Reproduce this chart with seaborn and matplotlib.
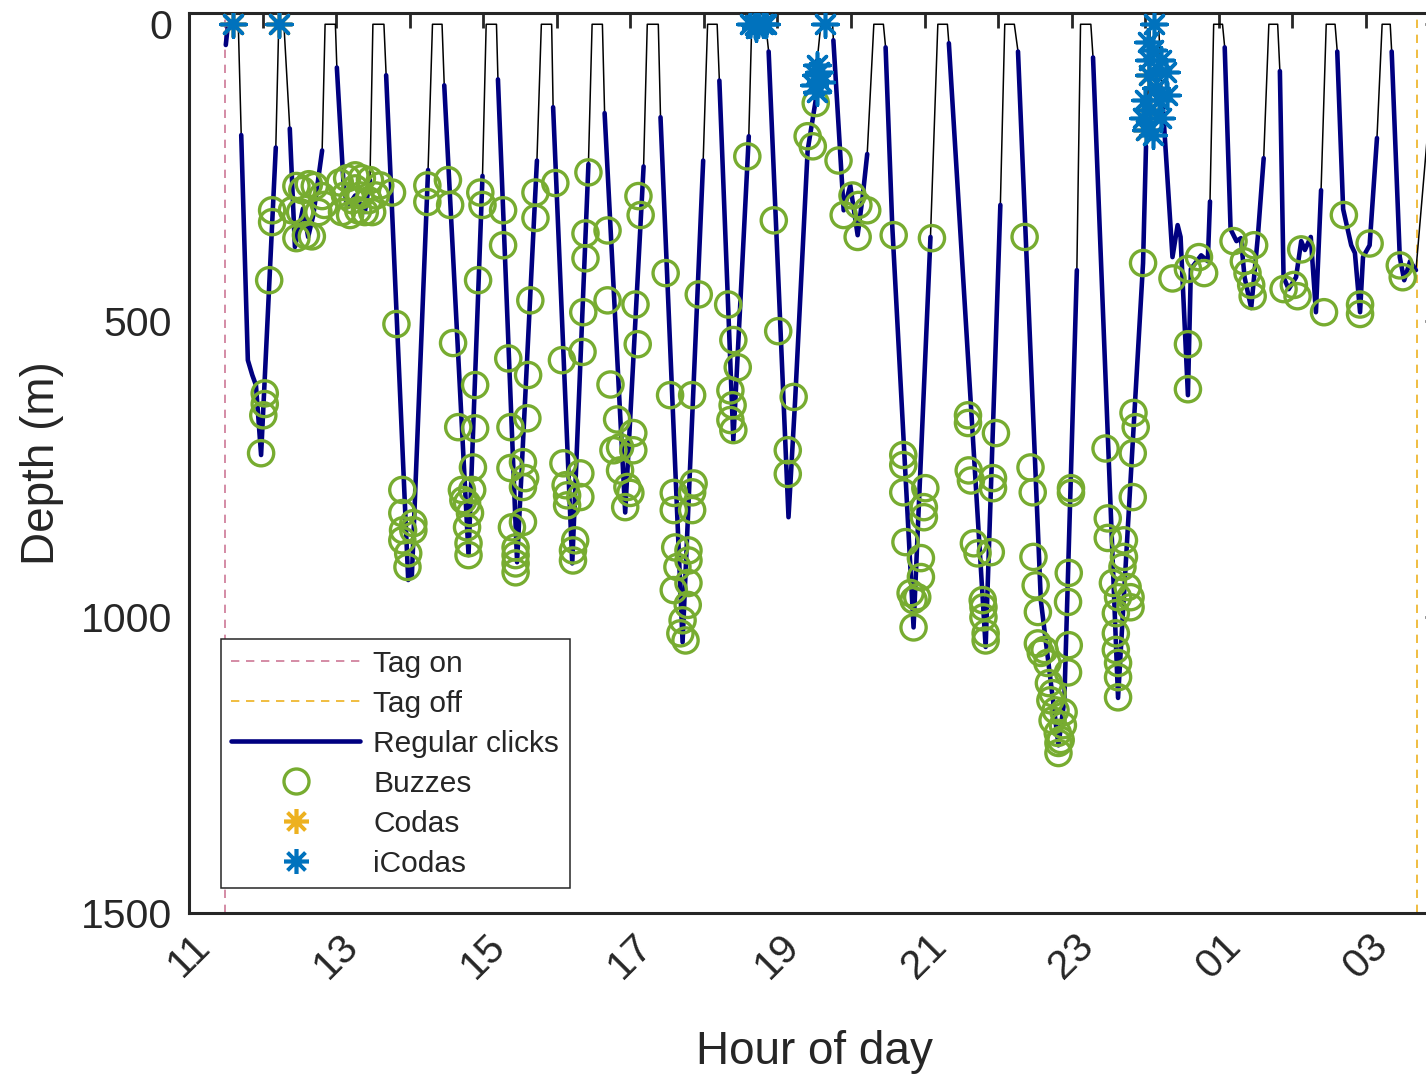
import numpy as np
import pandas as pd
import matplotlib
matplotlib.use("Agg")
import matplotlib.pyplot as plt
from matplotlib.lines import Line2D
import seaborn as sns

# Dive profile: hour of day (hours after midnight continue past 24), depth (m),
# and whether regular clicks were heard on the segment that starts at each point
profile_hour = [
    11.50, 11.53, 11.67, 11.71, 11.80, 11.86, 11.91, 11.98, 12.18, 12.22,
    12.29, 12.37, 12.44, 12.55, 12.62, 12.69, 12.81, 12.85,
    12.99, 13.01, 13.10, 13.15, 13.26, 13.39, 13.46, 13.50,
    13.65, 13.68, 13.98, 14.03, 14.25, 14.31,
    14.44, 14.47, 14.80, 14.99, 15.04,
    15.18, 15.20, 15.46, 15.73, 15.79,
    15.93, 15.95, 16.21, 16.43, 16.48,
    16.62, 16.65, 16.93, 17.18, 17.23,
    17.38, 17.41, 17.71, 17.99, 18.05,
    18.18, 18.21, 18.40, 18.61, 18.65,
    18.84, 18.88, 19.15, 19.24, 19.41, 19.52, 19.54, 19.59,
    19.75, 19.76, 19.90, 19.99, 20.09, 20.16, 20.22, 20.31,
    20.44, 20.47, 20.56, 20.58, 20.85, 21.08, 21.18,
    21.31, 21.33, 21.83, 22.03, 22.09,
    22.22, 22.27, 22.58, 22.82, 22.90, 23.07, 23.12,
    23.26, 23.29, 23.63, 23.97, 24.01, 24.07,
    24.18, 24.24, 24.37, 24.44, 24.48, 24.58, 24.62, 24.76, 24.85, 24.88, 24.93,
    25.05, 25.08, 25.16, 25.24, 25.30, 25.35, 25.44, 25.53, 25.61, 25.68,
    25.80, 25.83, 25.88, 25.95, 26.05, 26.12, 26.17, 26.25, 26.32, 26.39, 26.46,
    26.58, 26.61, 26.69, 26.80, 26.85, 26.92, 26.96, 27.05, 27.15, 27.22,
    27.33, 27.35, 27.46, 27.52, 27.60, 27.68, 27.83, 27.91,
]
profile_depth = [
    35, 0, 0, 187, 567, 592, 609, 727, 208, 0,
    0, 176, 376, 311, 359, 322, 213, 0,
    0, 73, 268, 309, 289, 317, 263, 0,
    0, 86, 938, 930, 246, 0,
    0, 103, 896, 256, 0,
    0, 93, 908, 230, 0,
    0, 140, 910, 236, 0,
    0, 150, 824, 240, 0,
    0, 157, 1043, 230, 0,
    0, 95, 702, 189, 0,
    0, 46, 832, 635, 213, 128, 61, 0,
    0, 27, 314, 272, 356, 289, 219, 0,
    0, 39, 339, 386, 1018, 359, 0,
    0, 32, 1051, 305, 0,
    0, 46, 972, 1217, 1141, 415, 0,
    0, 56, 1137, 403, 206, 0,
    0, 140, 393, 339, 359, 626, 413, 390, 400, 299, 0,
    0, 39, 346, 366, 361, 427, 479, 359, 226, 0,
    0, 79, 427, 447, 427, 366, 381, 359, 486, 280, 0,
    0, 46, 312, 373, 386, 486, 393, 373, 192, 0,
    0, 46, 393, 432, 400, 415, 196, 60,
]
profile_clicks = [
    1, 0, 0, 1, 1, 1, 1, 1, 0, 0,
    0, 1, 1, 1, 1, 1, 0, 0,
    0, 1, 1, 1, 1, 1, 0, 0,
    0, 1, 1, 1, 0, 0,
    0, 1, 1, 0, 0,
    0, 1, 1, 0, 0,
    0, 1, 1, 0, 0,
    0, 1, 1, 0, 0,
    0, 1, 1, 0, 0,
    0, 1, 1, 0, 0,
    0, 1, 1, 1, 1, 1, 0, 0,
    0, 1, 1, 1, 1, 1, 0, 0,
    0, 1, 1, 1, 1, 0, 0,
    0, 1, 1, 0, 0,
    0, 1, 1, 1, 1, 0, 0,
    0, 1, 1, 1, 0, 0,
    0, 1, 1, 1, 1, 1, 1, 1, 1, 0, 0,
    0, 1, 1, 1, 1, 1, 1, 1, 0, 0,
    0, 1, 1, 1, 1, 1, 1, 1, 1, 0, 0,
    0, 1, 1, 1, 1, 1, 1, 1, 0, 0,
    0, 1, 1, 1, 1, 0, 0, 0,
]

buzz_hour = [
    11.98, 12.01, 12.03, 12.03, 12.09, 12.13, 12.13,
    12.46, 12.54, 12.63, 12.71, 12.51, 12.76, 12.46, 12.59, 12.67, 12.81, 12.40, 12.84,
    13.05, 13.15, 13.26, 13.35, 13.46, 13.12, 13.22, 13.33, 13.44, 13.54, 13.08, 13.19,
    13.30, 13.39, 13.49, 13.26, 13.60,
    13.76, 13.82, 13.90, 13.90, 13.91, 14.05, 14.05, 13.90, 13.98, 13.97, 14.24, 14.24,
    14.52, 14.55, 14.59, 14.66, 14.71, 14.73, 14.78, 14.82, 14.78, 14.80, 14.80, 14.85,
    14.86, 14.89, 14.89, 14.93, 14.96, 14.99,
    15.27, 15.27, 15.34, 15.37, 15.37, 15.39, 15.44, 15.44, 15.44, 15.44, 15.54, 15.54,
    15.57, 15.54, 15.60, 15.61, 15.64, 15.71, 15.71,
    15.98, 16.07, 16.09, 16.12, 16.14, 16.14, 16.25, 16.22, 16.22, 16.32, 16.32, 16.35,
    16.36, 16.39, 16.39, 16.43,
    16.69, 16.69, 16.73, 16.82, 16.77, 16.86, 16.86, 16.96, 17.00, 16.93, 17.04, 17.04,
    17.10, 17.07, 17.14, 17.11,
    17.48, 17.54, 17.59, 17.59, 17.61, 17.64, 17.59, 17.78, 17.71, 17.68, 17.75, 17.79,
    17.79, 17.79, 17.84, 17.84, 17.86, 17.84, 17.93,
    18.33, 18.40, 18.46, 18.36, 18.39, 18.36, 18.40, 18.59,
    18.95, 19.01, 19.14, 19.14, 19.22, 19.41, 19.48, 19.52,
    19.83, 20.02, 19.90, 20.10, 20.09, 20.22,
    20.58, 20.71, 20.71, 20.71, 20.74, 20.81, 20.85, 20.90, 20.85, 20.95, 20.95, 20.99,
    20.99, 21.01, 21.10,
    21.59, 21.59, 21.60, 21.63, 21.67, 21.72, 21.79, 21.80, 21.80, 21.83, 21.83, 21.90,
    21.93, 21.93, 21.97,
    22.36, 22.44, 22.47, 22.48, 22.51, 22.54, 22.54, 22.58, 22.63, 22.67, 22.69, 22.71,
    22.74, 22.74, 22.78, 22.81, 22.82, 22.82, 22.85, 22.88, 22.89, 22.96, 22.95, 22.95,
    22.96, 22.99, 22.99,
    23.46, 23.49, 23.49, 23.56, 23.60, 23.60, 23.60, 23.63, 23.63, 23.63, 23.63, 23.69,
    23.71, 23.71, 23.76, 23.80, 23.80, 23.83, 23.83, 23.87, 23.84, 23.97,
    24.37, 24.58, 24.73, 24.80, 24.58, 24.58,
    25.20, 25.48, 25.34, 25.39, 25.44, 25.46,
    25.88, 26.02, 26.07, 26.12, 26.43,
    26.70, 27.05, 26.92, 26.92,
    27.46, 27.50,
]
buzz_depth = [
    724, 660, 641, 623, 432, 334, 314,
    273, 280, 270, 273, 317, 317, 361, 356, 358, 290, 314, 305,
    267, 260, 255, 260, 263, 289, 297, 289, 297, 289, 317, 322,
    314, 317, 317, 277, 272,
    284, 506, 786, 825, 854, 854, 842, 871, 893, 916, 272, 300,
    263, 305, 538, 680, 786, 803, 808, 825, 849, 876, 896, 786,
    748, 682, 609, 432, 284, 305,
    314, 373, 564, 680, 749, 849, 883, 896, 910, 925, 840, 781,
    766, 739, 665, 592, 466, 284, 327,
    268, 567, 741, 778, 795, 812, 871, 888, 905, 798, 758, 553,
    486, 395, 353, 250,
    348, 466, 608, 667, 719, 714, 753, 781, 791, 815, 719, 690,
    540, 473, 322, 290,
    420, 626, 791, 820, 883, 916, 955, 980, 1006, 1028, 1040, 943,
    905, 888, 820, 790, 775, 626, 456,
    473, 533, 579, 618, 643, 668, 685, 223,
    331, 518, 719, 759, 629, 189, 206, 133,
    230, 289, 322, 305, 359, 314,
    356, 727, 744, 790, 874, 960, 972, 967, 1018, 933, 901, 832,
    815, 783, 361,
    660, 673, 753, 770, 876, 893, 972, 984, 1001, 1028, 1040, 891,
    783, 766, 690,
    359, 748, 790, 899, 947, 992, 1045, 1061, 1056, 1078, 1112, 1141,
    1129, 1175, 1158, 1196, 1213, 1230, 1208, 1183, 1161, 1048, 1094, 975,
    926, 791, 783,
    716, 834, 867, 943, 994, 1028, 1056, 1078, 1102, 1136, 967, 916,
    899, 871, 950, 967, 984, 798, 724, 680, 656, 403,
    429, 413, 393, 420, 540, 616,
    366, 373, 400, 420, 440, 459,
    447, 440, 459, 380, 486,
    322, 370, 473, 489,
    407, 427,
]

coda_hour = [11.60, 12.22, 24.05, 24.07, 24.01]
coda_depth = [0, 0, 86, 145, 179]

icoda_hour = [
    11.60, 12.22,
    18.63, 18.69, 18.74, 18.80, 18.71, 18.84,
    19.54, 19.52, 19.59, 19.54, 19.50, 19.57,
    19.65,
    24.12, 24.04, 24.10, 24.21, 24.28, 24.05, 24.14, 24.29, 23.99, 24.07, 24.21, 24.01,
    24.10, 23.97, 24.05, 24.18,
]
icoda_depth = [
    0, 0,
    0, 2, 0, 0, 7, 0,
    69, 86, 98, 115, 103, 81,
    0,
    0, 30, 44, 61, 81, 86, 108, 120, 128, 145, 159, 179,
    187, 159, 61, 128,
]

tag_on = 11.49
tag_off = 27.70

hour_ticks = list(range(11, 29))
hour_labels = ["11", "", "13", "", "15", "", "17", "", "19", "", "21", "", "23", "",
               "01", "", "03", ""]
depth_ticks = [0, 500, 1000, 1500]

navy = "#000080"
green = "#77AC30"
orange = "#EDB120"
blue = "#0072BD"
pink = "#CD7896"
ink = "#262626"

sns.set_theme(style="white")
plt.rcParams["font.family"] = ["Liberation Sans", "DejaVu Sans"]

fig = plt.figure(figsize=(14.26, 10.75), dpi=100)
ax = fig.add_axes([189 / 1426, 162 / 1075, 1250.5 / 1426, 900 / 1075])

ax.axvline(tag_on, color=pink, lw=1.2, ls=(0, (5, 4)), zorder=1)
ax.axvline(tag_off, color=orange, lw=1.2, ls=(0, (5, 4)), zorder=1)

# whole depth trace in thin black
prof = pd.DataFrame({"hour": profile_hour, "depth": profile_depth})
sns.lineplot(data=prof, x="hour", y="depth", sort=False, estimator=None,
             color="black", lw=1.1, ax=ax, zorder=2)

# parts with regular clicks in thick navy, one run per stretch of clicking
rows = []
run = 0
for i in range(len(profile_hour) - 1):
    if profile_clicks[i]:
        if i == 0 or not profile_clicks[i - 1]:
            run += 1
            rows.append((run, profile_hour[i], profile_depth[i]))
        rows.append((run, profile_hour[i + 1], profile_depth[i + 1]))
clicks = pd.DataFrame(rows, columns=["run", "hour", "depth"])
sns.lineplot(data=clicks, x="hour", y="depth", units="run", sort=False, estimator=None,
             color=navy, lw=3.3, ax=ax, zorder=3)

sns.scatterplot(x=buzz_hour, y=buzz_depth, marker="o", s=330, facecolor="none",
                edgecolor=green, linewidth=2.4, ax=ax, zorder=4)
sns.scatterplot(x=coda_hour, y=coda_depth, marker=(8, 2, 0), s=330, color=orange,
                linewidth=2.6, ax=ax, zorder=5)
sns.scatterplot(x=icoda_hour, y=icoda_depth, marker=(8, 2, 0), s=330, color=blue,
                linewidth=2.6, ax=ax, zorder=6)

ax.set_xlim(11, 28)
ax.set_ylim(1500, -19)
ax.set_xticks(hour_ticks)
ax.set_xticklabels(hour_labels, rotation=45, ha="center", va="top")
ax.set_yticks(depth_ticks)
ax.tick_params(direction="in", top=True, right=True, length=11, width=2,
               color=ink, labelsize=29.5, labelcolor=ink)
ax.tick_params(axis="x", pad=10)
ax.tick_params(axis="y", pad=12)
for sp in ax.spines.values():
    sp.set_visible(True)
    sp.set_color(ink)
    sp.set_linewidth(2.2)

ax.set_xlabel("Hour of day", fontsize=33, color=ink, labelpad=32)
ax.set_ylabel("Depth (m)", fontsize=33, color=ink, labelpad=12)

handles = [
    Line2D([], [], color=pink, lw=1.2, ls=(0, (5, 4))),
    Line2D([], [], color=orange, lw=1.2, ls=(0, (5, 4))),
    Line2D([], [], color=navy, lw=3.3),
    Line2D([], [], ls="none", marker="o", ms=18, mfc="none", mec=green, mew=2.4),
    Line2D([], [], ls="none", marker=(8, 2, 0), ms=18, color=orange, mew=2.6),
    Line2D([], [], ls="none", marker=(8, 2, 0), ms=18, color=blue, mew=2.6),
]
labels = ["Tag on", "Tag off", "Regular clicks", "Buzzes", "Codas", "iCodas"]
leg = ax.legend(handles, labels, loc="lower left", bbox_to_anchor=(0.0256, 0.0278),
                borderaxespad=0, fontsize=21.5, handlelength=4.3, handletextpad=0.45,
                labelspacing=0.4, borderpad=0.35, frameon=True, fancybox=False,
                framealpha=1, edgecolor=ink)
leg.get_frame().set_linewidth(1.1)
for t in leg.get_texts():
    t.set_color(ink)

fig.savefig("out.png", dpi=100)
